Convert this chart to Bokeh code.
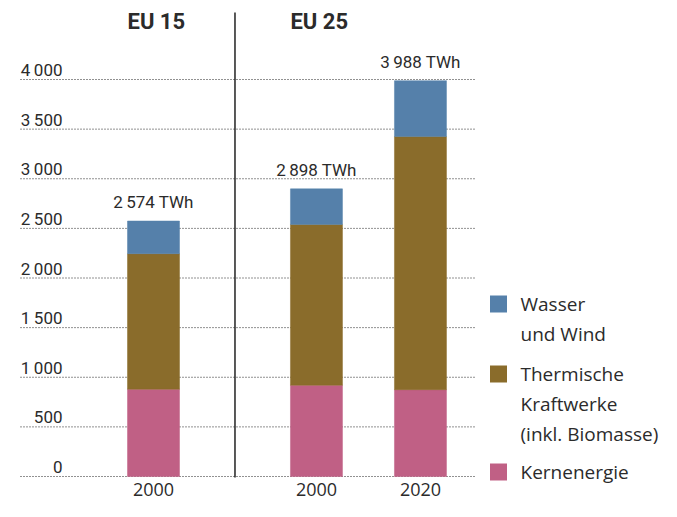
from bokeh.plotting import figure
from bokeh.models import ColumnDataSource, Range1d
from bokeh.core.properties import value
from bokeh.embed import file_html
from bokeh.resources import INLINE

# ---------------- data ----------------
groups = ["EU 15", "EU 25", "EU 25"]
years = ["2000", "2000", "2020"]
kernenergie = [880, 920, 875]
thermisch = [1365, 1620, 2550]
wasser_wind = [329, 358, 563]
totals = [2574, 2898, 3988]
y_ticks = [0, 500, 1000, 1500, 2000, 2500, 3000, 3500, 4000]
series_names = ["kernenergie", "thermisch", "wasser_wind"]
series_labels = ["Kernenergie", "Thermische\nKraftwerke\n(inkl. Biomasse)", "Wasser\nund Wind"]
series_colors = ["#C06085", "#8A6C2B", "#5580AA"]

# ---------------- layout ----------------
W, H = 661, 501
PX_PER_X = 104.0                 # pixels per bar slot
Y0_PX, Y4000_PX = 476.0, 79.0    # canvas pixel rows of the 0 and 4000 lines
PX_PER_Y = (Y0_PX - Y4000_PX) / 4000.0
GROUP_GAP = 0.567
BAR_W = 0.5

# bar positions derived from group membership
xpos = []
g_index = -1
prev = None
for i, g in enumerate(groups):
    if g != prev:
        g_index += 1
        prev = g
    xpos.append(i + GROUP_GAP * g_index)

x_start = -153.0 / PX_PER_X
x_end = x_start + W / PX_PER_X
y_start = -(H - Y0_PX) / PX_PER_Y
y_end = y_start + H / PX_PER_Y


def ix(px):  # canvas pixel x -> data x
    return x_start + px / PX_PER_X


def iy(py):  # canvas pixel y (from top) -> data y
    return y_end - py / PX_PER_Y


def fmt(v):
    return f"{v:,}".replace(",", "\u2009")


TXT = "#2b2b2b"

p = figure(width=W, height=H, output_backend="svg", toolbar_location=None,
           x_range=Range1d(x_start, x_end), y_range=Range1d(y_start, y_end),
           x_axis_location=None, y_axis_location=None, min_border=0,
           outline_line_color=None, background_fill_color="white",
           border_fill_color="white")
p.xgrid.visible = False
p.ygrid.visible = False

# dotted gridlines
p.segment(x0=[ix(20)] * len(y_ticks), x1=[ix(475)] * len(y_ticks),
          y0=y_ticks, y1=y_ticks, line_color="#222222", line_width=1,
          line_dash="1 2")

# y tick labels (above the gridlines)
p.text(x=[ix(62)] * len(y_ticks), y=y_ticks, text=[fmt(t) for t in y_ticks],
       text_align="right", text_baseline="middle", y_offset=-9.5,
       text_font=value("Roboto"), text_font_size="17px", text_color=TXT)

# separator between groups
sep_x = []
for i in range(1, len(groups)):
    if groups[i] != groups[i - 1]:
        sep_x.append((xpos[i] + xpos[i - 1]) / 2)
p.segment(x0=sep_x, x1=sep_x, y0=[iy(Y0_PX + 1)] * len(sep_x), y1=[iy(12)] * len(sep_x),
          line_color="#222222", line_width=1.5)

# stacked bars
src = ColumnDataSource(dict(x=xpos, kernenergie=kernenergie, thermisch=thermisch,
                            wasser_wind=wasser_wind))
p.vbar_stack(series_names, x="x", width=BAR_W, color=series_colors,
             line_color=series_colors, line_width=0.5, source=src)

# totals
p.text(x=xpos, y=totals, text=[fmt(t) + " TWh" for t in totals],
       text_align="center", text_baseline="middle", y_offset=-19,
       text_font=value("Roboto"), text_font_size="17px", text_color=TXT)

# group titles (at first bar of each group, left aligned at bar edge)
tx, tt = [], []
for i, g in enumerate(groups):
    if i == 0 or groups[i - 1] != g:
        tx.append(xpos[i] - BAR_W / 2)
        tt.append(g)
p.text(x=tx, y=[iy(20.5)] * len(tx), text=tt, text_align="left",
       text_baseline="middle", text_font=value("Roboto"),
       text_font_style="bold", text_font_size="22px", text_color=TXT)

# year labels
p.text(x=xpos, y=[iy(489)] * len(xpos), text=years, text_align="center",
       text_baseline="middle", text_font=value("Open Sans"),
       text_font_size="18px", text_color=TXT)

# legend (top to bottom: Wasser, Thermisch, Kern)
first_centers = [303.5, 373.5, 471.5]
order = [2, 1, 0]
LINE_H = 30
for k, si in enumerate(order):
    c = first_centers[k]
    p.scatter(x=[ix(498)], y=[iy(c)], marker="square", size=17,
              fill_color=series_colors[si], line_color=None)
    lines = series_labels[si].split("\n")
    p.text(x=[ix(520)] * len(lines), y=[iy(c + LINE_H * j) for j in range(len(lines))],
           text=lines, text_align="left", text_baseline="middle",
           text_font=value("Open Sans"), text_font_size="19px", text_color=TXT)

open("out.html", "w").write(file_html(p, INLINE))
